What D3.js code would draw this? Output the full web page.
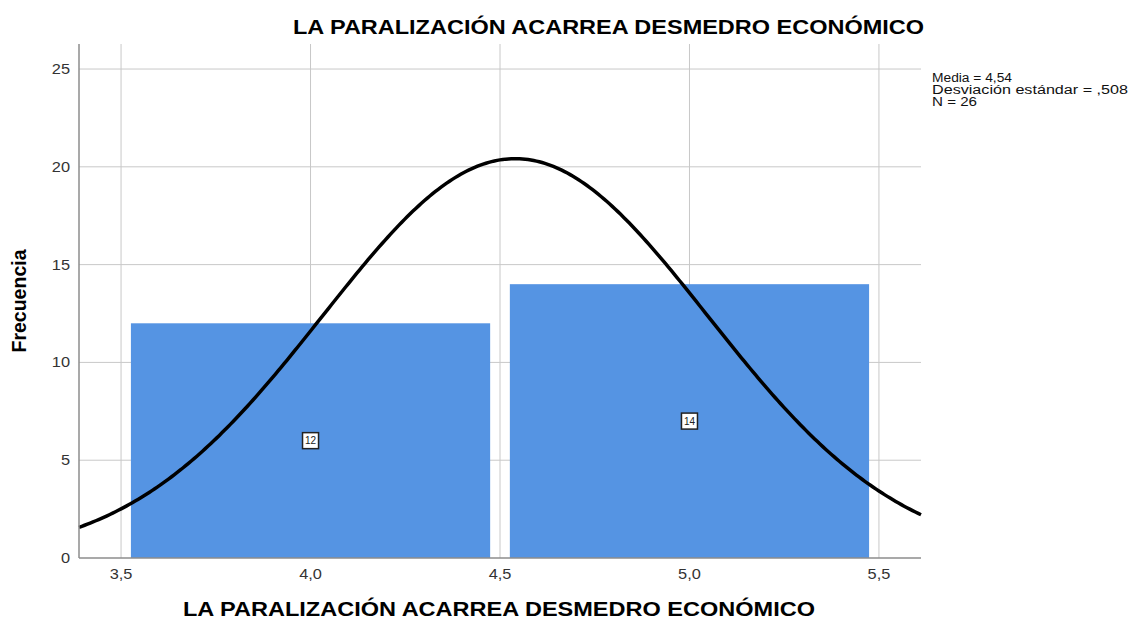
<!DOCTYPE html>
<html>
<head>
<meta charset="utf-8">
<script src="https://cdn.jsdelivr.net/npm/d3@7"></script>
<style>
  body { margin: 0; background: #fff; }
  text { font-family: "Liberation Sans", Arial, sans-serif; }
</style>
</head>
<body>
<div id="chart"></div>
<script>
// ------ Data ---------------//
var binStarts = [3.5, 4.5];
var binEnds = [4.5, 5.5];
var counts = [12, 14];
var xTicks = [3.5, 4.0, 4.5, 5.0, 5.5];
var yTicks = [0, 5, 10, 15, 20, 25];
var mean = 4.54, sd = 0.508, n = 26;
var statLines = ["Media = 4,54", "Desviación estándar = ,508", "N = 26"];
var statWidths = [80, 196, 45];
var titleText = "LA PARALIZACIÓN ACARREA DESMEDRO ECONÓMICO";

var width = 1129, height = 620;
var margin = {top: 44, right: 208, bottom: 62, left: 79};
var stretch = 1.17;   // the source text is drawn a little wide

var svg = d3.select("#chart").append("svg")
  .attr("width", width).attr("height", height);

// ------ Scales ---------------//
var x = d3.scaleLinear().domain([3.389, 5.611]).range([margin.left, width - margin.right]);
var y = d3.scaleLinear().domain([0, 26.28]).range([height - margin.bottom, margin.top]);

var fmt = d => d3.format(".1f")(d).replace(".", ",");

// ------ Grid ---------------//
svg.append("g").selectAll("line").data(xTicks).join("line")
  .attr("x1", d => x(d)).attr("x2", d => x(d))
  .attr("y1", y.range()[1]).attr("y2", y.range()[0])
  .attr("stroke", "#c8c8c8").attr("stroke-width", 1);
svg.append("g").selectAll("line").data(yTicks.slice(1)).join("line")
  .attr("x1", x.range()[0]).attr("x2", x.range()[1])
  .attr("y1", d => y(d)).attr("y2", d => y(d))
  .attr("stroke", "#c8c8c8").attr("stroke-width", 1);

// ------ Bars ---------------//
var gap = 0.026;
svg.append("g").selectAll("rect").data(counts).join("rect")
  .attr("x", (d, i) => x(binStarts[i] + gap))
  .attr("width", (d, i) => x(binEnds[i] - gap) - x(binStarts[i] + gap))
  .attr("y", d => y(d))
  .attr("height", d => y(0) - y(d))
  .attr("fill", "#5594e3");

// ------ Normal curve ---------------//
var binW = binEnds[0] - binStarts[0];
var pts = d3.range(0, 301).map(i => {
  var v = x.domain()[0] + (x.domain()[1] - x.domain()[0]) * i / 300;
  var z = (v - mean) / sd;
  return [v, n * binW * Math.exp(-0.5 * z * z) / (sd * Math.sqrt(2 * Math.PI))];
});
svg.append("path").datum(pts)
  .attr("d", d3.line().x(d => x(d[0])).y(d => y(d[1])))
  .attr("fill", "none").attr("stroke", "#000").attr("stroke-width", 3.5);

// ------ Bar value labels ---------------//
var lab = svg.append("g").selectAll("g").data(counts).join("g")
  .attr("transform", (d, i) => `translate(${x((binStarts[i] + binEnds[i]) / 2)},${y(d / 2)})`);
lab.append("rect").attr("x", -8).attr("y", -8).attr("width", 16).attr("height", 16)
  .attr("fill", "#fff").attr("stroke", "#222").attr("stroke-width", 1.5);
lab.append("text").text(d => d).attr("text-anchor", "middle").attr("dy", "0.36em")
  .attr("font-size", 10).attr("fill", "#222");

// ------ Axes ---------------//
svg.append("line")
  .attr("x1", x.range()[0]).attr("x2", x.range()[0])
  .attr("y1", y.range()[1]).attr("y2", y.range()[0])
  .attr("stroke", "#8c8c8c").attr("stroke-width", 1.5);
svg.append("line")
  .attr("x1", x.range()[0]).attr("x2", x.range()[1])
  .attr("y1", y(0)).attr("y2", y(0))
  .attr("stroke", "#8c8c8c").attr("stroke-width", 1.5);

svg.append("g").selectAll("text").data(yTicks).join("text")
  .attr("transform", d => `translate(${margin.left - 9},${y(d)}) scale(${stretch},1)`)
  .attr("dy", "0.36em")
  .attr("text-anchor", "end").attr("font-size", 14).attr("fill", "#333")
  .text(d => d);
svg.append("g").selectAll("text").data(xTicks).join("text")
  .attr("transform", d => `translate(${x(d)},${y(0) + 21}) scale(${stretch},1)`)
  .attr("text-anchor", "middle").attr("font-size", 14).attr("fill", "#333")
  .text(fmt);

// ------ Titles ---------------//
svg.append("text").text(titleText)
  .attr("x", 293).attr("y", 34)
  .attr("textLength", 631).attr("lengthAdjust", "spacingAndGlyphs")
  .attr("font-size", 21).attr("font-weight", "bold");
svg.append("text").text(titleText)
  .attr("x", 183).attr("y", 616)
  .attr("textLength", 632).attr("lengthAdjust", "spacingAndGlyphs")
  .attr("font-size", 21).attr("font-weight", "bold");
svg.append("text").text("Frecuencia")
  .attr("transform", `translate(26,${(y.range()[0] + y.range()[1]) / 2}) rotate(-90)`)
  .attr("x", -51.5)
  .attr("textLength", 103).attr("lengthAdjust", "spacingAndGlyphs")
  .attr("font-size", 20).attr("font-weight", "bold");

// ------ Stats ---------------//
svg.append("g").selectAll("text").data(statLines).join("text")
  .attr("x", 932).attr("y", (d, i) => 82 + i * 12)
  .attr("textLength", (d, i) => statWidths[i]).attr("lengthAdjust", "spacingAndGlyphs")
  .attr("font-size", 12.5).attr("fill", "#111")
  .text(d => d);
</script>
</body>
</html>
